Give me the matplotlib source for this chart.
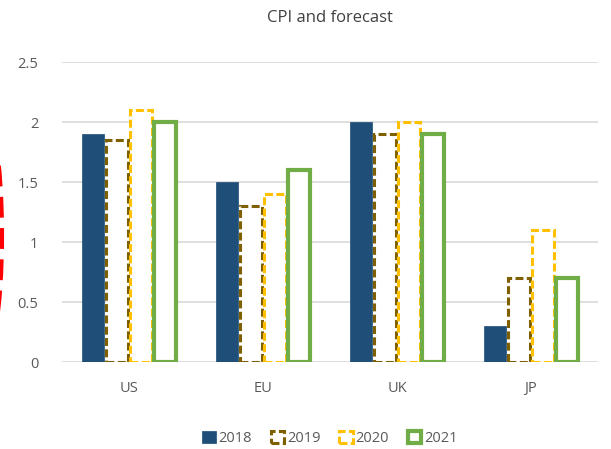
import matplotlib.pyplot as plt
import numpy as np
from matplotlib.patches import Ellipse
from matplotlib.transforms import IdentityTransform

# CPI per region and year
regions = ["US", "EU", "UK", "JP"]
years = ["2018", "2019", "2020", "2021"]
cpi_2018 = [1.9, 1.5, 2.0, 0.3]
cpi_2019 = [1.85, 1.3, 1.9, 0.7]
cpi_2020 = [2.1, 1.4, 2.0, 1.1]
cpi_2021 = [2.0, 1.6, 1.9, 0.7]

plt.rcParams['font.family'] = ['Open Sans', 'DejaVu Sans']

fig = plt.figure(figsize=(6.11, 4.49), dpi=100)
ax = fig.add_axes([62 / 611, 87 / 449, 536 / 611, 300 / 449])

x = np.arange(len(regions))
w = 0.165
step = 0.18

# 2018: solid filled bars
ax.bar(x - 1.5 * step, cpi_2018, w, color='#1F4E79', edgecolor='#1F4E79',
       linewidth=0.5, label=years[0], zorder=3)
# 2019 / 2020: dashed outline bars
ax.bar(x - 0.5 * step, cpi_2019, w, facecolor='white', edgecolor='#7F6000',
       linewidth=2.2, linestyle=(0, (2.6, 1.1)), label=years[1], zorder=3)
ax.bar(x + 0.5 * step, cpi_2020, w, facecolor='white', edgecolor='#FFC000',
       linewidth=2.2, linestyle=(0, (2.6, 1.1)), label=years[2], zorder=3)
# 2021: solid outline bars
ax.bar(x + 1.5 * step, cpi_2021, w, facecolor='white', edgecolor='#70AD47',
       linewidth=3, label=years[3], zorder=3)

ax.set_xlim(-0.5, len(regions) - 0.5)
ax.set_ylim(0, 2.5)
ax.set_yticks([0, 0.5, 1, 1.5, 2, 2.5])
ax.set_yticklabels(["0", "0.5", "1", "1.5", "2", "2.5"])
ax.set_xticks(x)
ax.set_xticklabels(regions)
ax.yaxis.grid(True, color='#D9D9D9', linewidth=1.2, zorder=0)
ax.tick_params(axis='both', length=0, labelsize=10.5, colors='#595959')
ax.tick_params(axis='y', pad=17)
ax.tick_params(axis='x', pad=14)
for s in ax.spines.values():
    s.set_visible(False)

ax.set_title("CPI and forecast", fontsize=12, color='#404040', pad=29)

ax.legend(loc='upper center', bbox_to_anchor=(0.5, -0.185), ncol=4,
          frameon=False, handlelength=0.9, handleheight=0.9,
          handletextpad=0.2, columnspacing=1.3, fontsize=10.5,
          labelcolor='#595959')

# red dashed highlight ring at the left edge
ring = Ellipse((-20, 449 - 235), 44, 268, fill=False, edgecolor='red',
               linewidth=3, linestyle=(0, (5, 2.5)), transform=IdentityTransform(),
               clip_on=False)
fig.patches.append(ring)

fig.savefig("out.png", dpi=100)
